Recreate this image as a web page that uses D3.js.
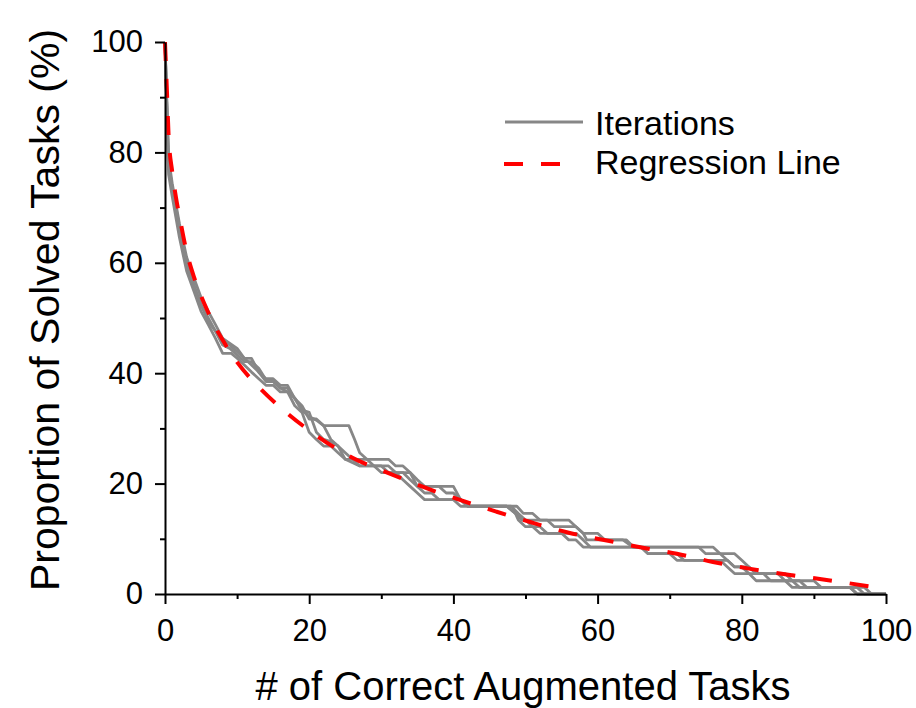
<!DOCTYPE html>
<html>
<head>
<meta charset="utf-8">
<script src="https://cdn.jsdelivr.net/npm/d3@7"></script>
<style>
    body { margin: 0; background: #fff; }
    svg { display: block; font-family: "Liberation Sans", Arial, sans-serif; }
    .iter { fill: none; stroke: #878787; stroke-width: 2.8; stroke-linejoin: round; }
    .reg { fill: none; stroke: #ff0000; stroke-width: 4; stroke-dasharray: 19 18; }
</style>
</head>
<body>
<svg id="chart" width="916" height="708"></svg>
<script>
// ==========================================
// DATA
// ==========================================

const xTicks = [0, 20, 40, 60, 80, 100];
const yTicks = [0, 20, 40, 60, 80, 100];
const minorTicks = [10, 30, 50, 70, 90];

const legendLabels = ["Iterations", "Regression Line"];

// each iteration: [x, y] vertices of the step line
const iter1 = [[0,100],[0.5,79],[1,74.4],[2,67.1],[3,61.0],[4,57.3],[5,53.7],[6,51.2],[7,48.8],[8,46.3],[10,44.5],[11,42.7],[12,42.7],[13,40.2],[14,39.0],[15,39.0],[16,37.8],[17,37.8],[18,35.4],[19,34.1],[20,31.7],[21,31.7],[22,30.5],[25.5,30.5],[26.3,28.0],[27,25.6],[28,24.4],[31,24.4],[32,23.2],[33,23.2],[34,22.0],[35,20.7],[36,19.5],[40,19.5],[41,17.1],[42,15.9],[48.8,15.9],[49.7,14.6],[51,14.6],[52,13.4],[56,13.4],[57,12.2],[58,11.0],[58.5,9.8],[63.5,9.8],[64.9,8.5],[76,8.5],[77,7.3],[79,7.3],[80,6.1],[81,4.9],[82,3.7],[86,3.7],[87,2.4],[90,2.4],[91,1.2],[97,1.2],[98,0],[100,0]];
const iter2 = [[0,100],[0.5,77],[1,73.2],[2,65.9],[3,59.8],[4,56.1],[5,52.4],[6,50.0],[7,47.6],[8,46.3],[10,43.9],[11,42.7],[12,41.5],[13,40.2],[14,38.5],[15,38.5],[16,37.3],[17,37.3],[18,35.4],[19,33.3],[20,32.1],[21,31.5],[22,30.5],[23,28.0],[24,26.8],[25,25.6],[26,24.4],[28,24.4],[29,23.2],[31,23.2],[32,22.0],[34,22.0],[35,19.5],[38,19.5],[39,18.3],[40,18.3],[41,17.1],[42,15.9],[47.4,15.9],[48.6,14.6],[49.5,13.4],[53,13.4],[54,12.2],[57,12.2],[58,11.0],[60,11.0],[61,9.8],[64,9.8],[65,8.5],[74,8.5],[75,7.3],[77,7.3],[78,6.1],[79,4.9],[80,4.9],[81,3.7],[83,3.7],[84,2.4],[87,2.4],[88,1.2],[96,1.2],[97,0],[100,0]];
const iter3 = [[0,100],[0.5,76],[1,72.0],[2,64.6],[3,58.5],[4,54.9],[5,51.2],[6,48.8],[7,46.3],[8,43.6],[9.2,43.6],[10,42.7],[11,41.5],[12,40.2],[13,39.0],[14,37.8],[15,37.8],[16,36.6],[17,36.6],[18,34.1],[19,32.9],[20,29.3],[21,28.0],[22,26.8],[23,26.8],[24,25.6],[25,24.4],[27,23.2],[30,23.2],[31,22.0],[33,22.0],[34,20.7],[35,19.5],[36,18.3],[37,18.3],[38,17.1],[41,17.1],[42,15.9],[48,15.9],[49,14.6],[50,13.4],[51,12.2],[52,11.0],[57,11.0],[58,9.8],[59,8.5],[66,8.5],[67,7.3],[71,7.3],[72,6.1],[78,6.1],[79,4.9],[81,4.9],[82,3.7],[85,3.7],[86,2.4],[88,2.4],[89,1.2],[95,1.2],[96,0],[100,0]];
const iter4 = [[0,100],[0.5,78],[1,73.8],[2,66.5],[3,60.0],[4,55.5],[5,52.4],[6,49.4],[7,47.6],[8,45.1],[9,44.5],[10,43.3],[11,42.1],[12,42.1],[13,40.9],[14,38.8],[15,38.5],[16,37.3],[17,36.6],[18,35.5],[19,33.3],[20,32.9],[21,29.3],[22,28.0],[23,27.6],[24,26.8],[25,24.4],[26,24.4],[27,23.2],[29,23.2],[30,22.0],[32,22.0],[33,20.7],[34,19.5],[35,18.3],[36,17.1],[40,17.1],[41,15.9],[47.4,15.9],[48.6,14.6],[49,13.4],[50,12.2],[52,12.2],[53,11.0],[55,11.0],[56,9.8],[57,9.8],[58,8.5],[66,8.5],[67,7.3],[70,7.3],[71,6.1],[77,6.1],[78,4.9],[79,3.7],[81,3.7],[82,2.4],[86,2.4],[87,1.2],[95,1.2],[96,0],[100,0]];
const iterations = [iter1, iter2, iter3, iter4];

// regression curve read at these x positions
const regX = [0, 0.15, 0.3, 0.5, 1, 1.5, 2, 3, 4, 5, 6, 7, 8, 10, 13, 17, 21, 26, 31, 36, 41, 46, 51, 56, 62, 67, 71, 76, 81, 87, 92, 98.5];
const regY = [100, 95, 90, 83, 76.5, 72, 68.5, 62, 57.5, 54, 51, 48.3, 46, 42, 37.5, 32.7, 28.7, 24.7, 21.9, 19.3, 17, 14.9, 12.9, 11.1, 9.5, 8.2, 7.3, 5.8, 4.6, 3.4, 2.5, 1.2];

// ==========================================
// DRAWING
// ==========================================

const svg = d3.select("#chart");
const plot = {left: 165, right: 886, top: 42, bottom: 594};

const x = d3.scaleLinear().domain([0, 100]).range([plot.left, plot.right]);
const y = d3.scaleLinear().domain([0, 100]).range([plot.bottom, plot.top]);

const line = d3.line().x(d => x(d[0])).y(d => y(d[1]));

// gray iteration lines
svg.append("g").selectAll("path")
    .data(iterations)
    .enter().append("path")
    .attr("class", "iter")
    .attr("d", line);

// red dashed regression line
svg.append("path")
    .attr("class", "reg")
    .attr("d", d3.line().curve(d3.curveMonotoneX)
        .x((d, i) => x(regX[i])).y(d => y(d))(regY));

// axes: major ticks labelled, minor ticks shorter
function styleAxis(g) {
    g.attr("font-family", null);
    g.select(".domain").attr("stroke", "#000").attr("stroke-width", 2);
    g.selectAll(".tick line").attr("stroke", "#000").attr("stroke-width", 2);
    g.selectAll(".tick text").attr("fill", "#000").style("font-size", "31px");
}

svg.append("g")
    .attr("transform", `translate(0,${plot.bottom})`)
    .call(d3.axisBottom(x).tickValues(xTicks).tickSize(10).tickSizeOuter(0).tickPadding(15))
    .call(styleAxis);

svg.append("g")
    .attr("transform", `translate(0,${plot.bottom})`)
    .call(d3.axisBottom(x).tickValues(minorTicks).tickSize(5).tickFormat(""))
    .call(styleAxis)
    .select(".domain").remove();

svg.append("g")
    .attr("transform", `translate(${plot.left},0)`)
    .call(d3.axisLeft(y).tickValues(yTicks).tickSize(10).tickSizeOuter(0).tickPadding(12))
    .call(styleAxis);

svg.append("g")
    .attr("transform", `translate(${plot.left},0)`)
    .call(d3.axisLeft(y).tickValues(minorTicks).tickSize(5).tickFormat(""))
    .call(styleAxis)
    .select(".domain").remove();

// axis titles
svg.append("text")
    .attr("x", 523)
    .attr("y", 700)
    .attr("text-anchor", "middle")
    .style("font-size", "40px")
    .text("# of Correct Augmented Tasks");

svg.append("text")
    .attr("transform", "translate(59,310) rotate(-90)")
    .attr("text-anchor", "middle")
    .style("font-size", "41px")
    .text("Proportion of Solved Tasks (%)");

// legend
const legend = svg.append("g");
legend.append("line")
    .attr("x1", 505).attr("x2", 583).attr("y1", 122).attr("y2", 122)
    .attr("class", "iter");
legend.append("line")
    .attr("x1", 504).attr("x2", 563).attr("y1", 164).attr("y2", 164)
    .attr("class", "reg").attr("stroke-dasharray", "20 19");

legend.selectAll("text")
    .data(legendLabels)
    .enter().append("text")
    .attr("x", 595)
    .attr("y", (d, i) => 135 + i * 39)
    .style("font-size", "34px")
    .text(d => d);
</script>
</body>
</html>
